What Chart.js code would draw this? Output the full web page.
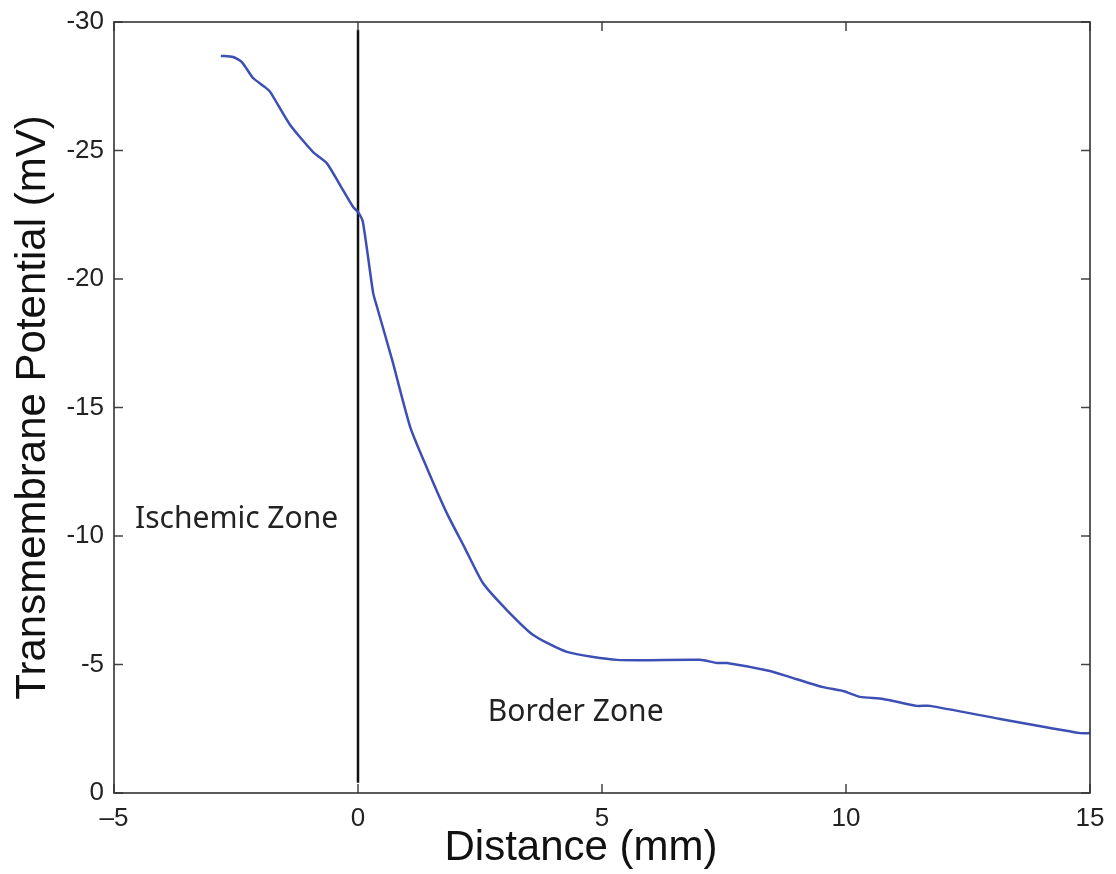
<!DOCTYPE html>
<html>
<head>
<meta charset="utf-8">
<script src="https://cdn.jsdelivr.net/npm/chart.js@4.4.0/dist/chart.umd.min.js"></script>
<style>
  html, body { margin: 0; padding: 0; background: #fff; }
  canvas { display: block; }
</style>
</head>
<body>
<canvas id="myChart" width="1116" height="874"></canvas>
<script>
// Données : distance (mm) et potentiel transmembranaire (mV)
const distance = [-2.81, -2.56, -2.38, -2.15, -1.91, -1.80, -1.39, -0.92, -0.64, -0.37, -0.10, 0.00, 0.10,
    0.31, 0.39, 0.70, 1.07, 1.43, 1.82, 2.19, 2.56, 3.05, 3.59, 4.28, 5.31, 7.01, 7.36, 7.56,
    8.44, 8.85, 9.53, 9.94, 10.29, 10.76, 11.45, 11.72, 13.16, 14.80, 15.00];
const potential = [-28.68, -28.64, -28.44, -27.82, -27.47, -27.28, -25.99, -24.94, -24.51, -23.66, -22.80, -22.61, -22.22,
    -19.46, -18.91, -16.85, -14.24, -12.57, -10.89, -9.53, -8.17, -7.12, -6.15, -5.49, -5.18, -5.18, -5.06, -5.06,
    -4.75, -4.51, -4.12, -3.97, -3.74, -3.66, -3.39, -3.39, -2.88, -2.33, -2.33];

// Limite entre zone ischémique et zone frontière
const boundaryX = [0, 0];
const boundaryY = [-29.7, -0.4];

const xTicks = [-5, 0, 5, 10, 15];
const yTicks = [0, -5, -10, -15, -20, -25, -30];

const zoneLabels = [
    { text: 'Ischemic Zone', x: -4.57, y: -10.3 },
    { text: 'Border Zone', x: 2.66, y: -2.8 }
];

const tickFont = { family: 'Liberation Sans, Arial, sans-serif', size: 26 };

// Cadre + graduations vers l'intérieur (style Matlab) + textes
const boxPlugin = {
    id: 'boxPlugin',
    afterDraw(chart) {
        const { ctx, chartArea: a, scales: { x, y } } = chart;
        ctx.save();
        ctx.strokeStyle = '#444';
        ctx.lineWidth = 1.5;
        const len = 9;
        xTicks.forEach(v => {
            const px = x.getPixelForValue(v);
            ctx.beginPath();
            ctx.moveTo(px, a.bottom); ctx.lineTo(px, a.bottom - len);
            ctx.moveTo(px, a.top); ctx.lineTo(px, a.top + len);
            ctx.stroke();
        });
        yTicks.forEach(v => {
            const py = y.getPixelForValue(v);
            ctx.beginPath();
            ctx.moveTo(a.left, py); ctx.lineTo(a.left + len, py);
            ctx.moveTo(a.right, py); ctx.lineTo(a.right - len, py);
            ctx.stroke();
        });
        ctx.strokeStyle = '#333';
        ctx.lineWidth = 1.6;
        ctx.strokeRect(a.left, a.top, a.right - a.left, a.bottom - a.top);

        ctx.fillStyle = '#222';
        ctx.font = '30px "Noto Sans", sans-serif';
        ctx.textAlign = 'left';
        ctx.textBaseline = 'alphabetic';
        zoneLabels.forEach(l => {
            ctx.fillText(l.text, x.getPixelForValue(l.x), y.getPixelForValue(l.y));
        });

        ctx.fillStyle = '#111';
        ctx.font = '42px "Liberation Sans", Arial, sans-serif';
        ctx.textAlign = 'center';
        ctx.fillText('Distance (mm)', 581, 860);
        ctx.restore();
    }
};

const ctx = document.getElementById('myChart').getContext('2d');
const myChart = new Chart(ctx, {
    type: 'scatter',
    data: {
        datasets: [{
            label: 'Potentiel',
            data: distance.map((d, i) => ({ x: d, y: potential[i] })),
            showLine: true,
            borderColor: '#3d4fb5',
            borderWidth: 2.5,
            pointRadius: 0,
            tension: 0.2
        }, {
            label: 'Limite',
            data: boundaryX.map((d, i) => ({ x: d, y: boundaryY[i] })),
            showLine: true,
            borderColor: '#111',
            borderWidth: 2.5,
            pointRadius: 0
        }]
    },
    options: {
        responsive: false,
        animation: false,
        layout: { padding: { top: 22, right: 26, left: 0, bottom: 0 } },
        plugins: {
            legend: { display: false },
            tooltip: { enabled: false }
        },
        scales: {
            x: {
                type: 'linear',
                min: -5,
                max: 15,
                grid: { display: false, drawTicks: false },
                border: { display: false },
                ticks: {
                    stepSize: 5,
                    padding: 10,
                    color: '#222',
                    font: tickFont,
                    callback: v => (v < 0 ? '\u2013' + Math.abs(v) : '' + v)
                },
                afterFit: s => { s.height = 81; s.paddingLeft = 0; s.paddingRight = 0; }
            },
            y: {
                type: 'linear',
                min: -30,
                max: 0,
                reverse: true,
                grid: { display: false, drawTicks: false },
                border: { display: false },
                ticks: {
                    stepSize: 5,
                    padding: 10,
                    color: '#222',
                    font: tickFont
                },
                title: {
                    display: true,
                    text: 'Transmembrane Potential (mV)',
                    color: '#111',
                    font: { family: 'Liberation Sans, Arial, sans-serif', size: 42 },
                    padding: { top: 8, bottom: 0 }
                },
                afterFit: s => { s.width = 114; s.paddingTop = 0; s.paddingBottom = 0; }
            }
        }
    },
    plugins: [boxPlugin]
});
</script>
</body>
</html>
